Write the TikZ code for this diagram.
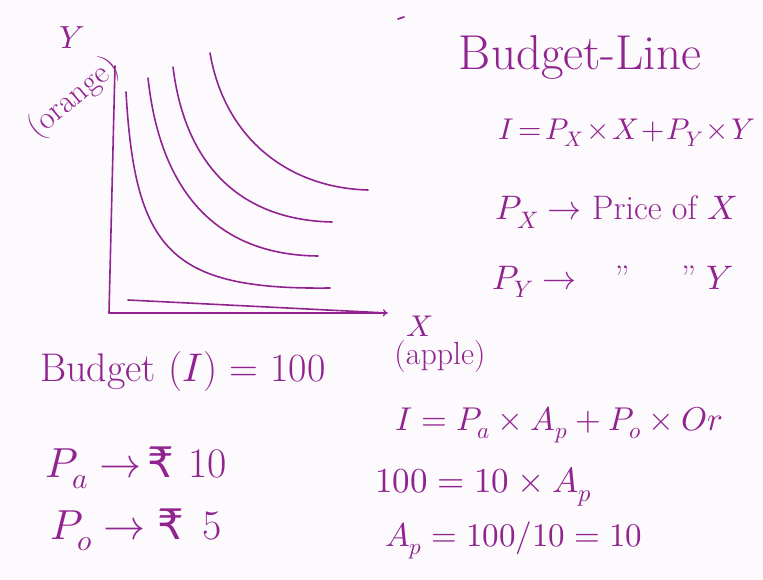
\documentclass[tikz,border=0pt]{standalone}
\usepackage{fontspec}
\usepackage{unicode-math}
\usepackage{tikz}
\setmathfont{Latin Modern Math}
\newfontfamily\rupeefont{DejaVu Sans}
\definecolor{ink}{RGB}{145,35,145}
\definecolor{board}{RGB}{252,250,252}
\tikzset{
  pen/.style={draw=ink, line width=1.6pt, line cap=round, line join=round},
  hand/.style={text=ink, inner sep=0pt, font=\fontsize{#1}{#1}\selectfont},
  hand/.default=40,
  tight/.style={execute at begin node={\medmuskip=1.5mu\thickmuskip=2.5mu}}
}
\newcommand{\rupee}{{\rupeefont\symbol{"20B9}}}

\begin{document}
\begin{tikzpicture}[x=1pt,y=-1pt]
  \fill[board] (0,0) rectangle (763,580);
  \useasboundingbox (0,0) rectangle (763,580);
  % axes
  \coordinate (ytop) at (115,66);
  \coordinate (orig) at (109,313);
  \coordinate (xend) at (387,313);
  \coordinate (xbeg) at (128,300);
  \draw[pen] (ytop) -- (orig) -- (xend);
  \draw[pen,->] (xbeg) -- (xend);
  % indifference curves
  \draw[pen] (126,92) .. controls (135,250) and (170,290) .. (330,288);
  \draw[pen] (148,78) .. controls (160,190) and (215,255) .. (318,256);
  \draw[pen] (173,67) .. controls (185,165) and (240,220) .. (332,222);
  \draw[pen] (210,53) .. controls (225,140) and (290,188) .. (368,190);
  \draw[pen] (398,19) -- (404,17);
  % axis labels
  \node[hand=32] (ylab) at (72,38) {$Y$};
  \node[hand=32, rotate=40] (ylab2) at (74,98) {(orange)};
  \node[hand=30] (xlab) at (420,326) {$X$};
  \node[hand=32] (xlab2) at (440,357) {(apple)};
  % budget line
  \node[hand=49] (bline) at (580,57) {Budget-Line};
  \node[hand=30, tight, anchor=west] (inc) at (498,133) {$I = P_X \times X + P_Y \times Y$};
  \node[hand=34, anchor=west] (px) at (495,212) {$P_X \rightarrow$ Price of $X$};
  \node[hand=34, anchor=west] (py) at (492,282) {$P_Y \rightarrow$\hspace{38pt}''\hspace{52pt}''\hspace{10pt}$Y$};
  % example
  \node[hand=40, anchor=west] (bud) at (40,372) {Budget ($I$) = 100};
  \node[hand=42, anchor=west] (pa) at (45,468) {$P_a \rightarrow$\hspace{6pt}\rupee\hspace{14pt}10};
  \node[hand=42, anchor=west] (po) at (50,530) {$P_o \rightarrow$\hspace{12pt}\rupee\hspace{18pt}5};
  \node[hand=33, anchor=west] (inc2) at (395,425) {$I = P_a \times A_p + P_o \times Or$};
  \node[hand=35, anchor=west] (eq1) at (375,487) {$100 = 10 \times A_p$};
  \node[hand=33, anchor=west] (eq2) at (385,540) {$A_p = 100/10 = 10$};
\end{tikzpicture}
\end{document}
